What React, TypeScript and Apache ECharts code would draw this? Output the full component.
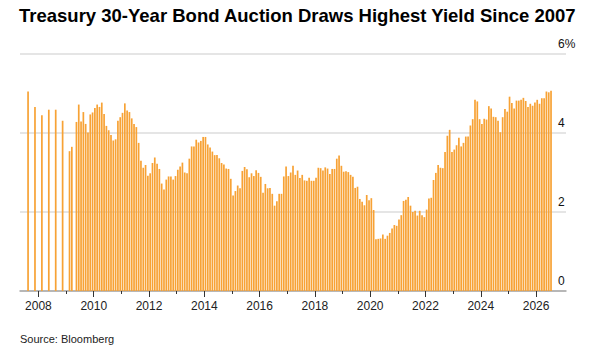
import { useEffect, useRef } from 'react';
import * as echarts from 'echarts';

// Quarterly auctions before the monthly schedule began
const quarterlyMonths = ['2007-08', '2007-11', '2008-02', '2008-05', '2008-08', '2008-11', '2009-02', '2009-03'];
const quarterlyYields = [5.05, 4.66, 4.45, 4.59, 4.59, 4.31, 3.54, 3.65];

// Monthly auction yields (%), one value per month starting May 2009
const monthlyStartYear = 2009;
const monthlyStartMonth = 5;
const monthlyYields = [
  // 2009 (May-Dec)
  4.28, 4.72, 4.29, 4.53, 4.23, 4.01, 4.47, 4.52,
  // 2010
  4.63, 4.72, 4.66, 4.77, 4.48, 4.18, 4.07, 3.95, 3.81, 3.84, 4.31, 4.40,
  // 2011
  4.51, 4.75, 4.57, 4.53, 4.37, 4.23, 4.15, 3.75, 3.30, 3.12, 3.19, 2.92,
  // 2012
  2.98, 3.24, 3.38, 3.22, 3.09, 2.72, 2.57, 2.82, 2.90, 2.90, 2.82, 2.91,
  // 2013
  3.07, 3.15, 3.25, 3.00, 2.98, 3.35, 3.66, 3.66, 3.83, 3.76, 3.80, 3.90,
  // 2014
  3.90, 3.71, 3.63, 3.53, 3.44, 3.44, 3.36, 3.24, 3.20, 3.10, 3.09, 2.84,
  // 2015
  2.42, 2.53, 2.67, 2.60, 3.04, 3.14, 3.08, 2.88, 2.98, 2.91, 3.06, 2.99,
  // 2016
  2.89, 2.49, 2.71, 2.60, 2.61, 2.46, 2.16, 2.27, 2.46, 2.46, 2.90, 3.15,
  // 2017
  2.91, 3.00, 3.17, 2.94, 3.05, 2.86, 2.94, 2.80, 2.79, 2.87, 2.79, 2.79,
  // 2018
  2.87, 3.12, 3.11, 3.05, 3.13, 3.10, 2.96, 3.09, 3.09, 3.35, 3.43, 3.17,
  // 2019
  3.02, 3.03, 3.01, 2.94, 2.89, 2.61, 2.64, 2.33, 2.26, 2.17, 2.43, 2.30,
  // 2020
  2.35, 2.05, 1.31, 1.32, 1.33, 1.43, 1.32, 1.40, 1.47, 1.58, 1.67, 1.65,
  // 2021
  1.81, 1.92, 2.28, 2.31, 2.38, 2.16, 2.00, 2.03, 1.91, 2.03, 1.92, 1.87,
  // 2022
  2.06, 2.34, 2.36, 2.81, 2.99, 3.19, 3.12, 3.11, 3.52, 3.93, 4.08, 3.52,
  // 2023
  3.58, 3.69, 3.88, 3.66, 3.75, 3.91, 3.91, 4.19, 4.35, 4.84, 4.80, 4.35,
  // 2024
  4.23, 4.36, 4.34, 4.68, 4.62, 4.41, 4.40, 4.31, 4.02, 4.40, 4.61, 4.54,
  // 2025
  4.92, 4.76, 4.62, 4.82, 4.82, 4.84, 4.89, 4.81, 4.66, 4.74, 4.69, 4.77,
  // 2026 (Jan-Jul)
  4.84, 4.74, 4.88, 4.88, 5.05, 5.03, 5.07,
];

// Axis extent (first and last month slots on the category axis)
const axisStartYear = 2007;
const axisStartMonth = 5;
const axisEndYear = 2027;
const axisEndMonth = 1;

// Year ticks: labelled (long) ticks on even years, short ticks on odd years
const labelYears = [2008, 2010, 2012, 2014, 2016, 2018, 2020, 2022, 2024, 2026];
const minorTickYears = [2009, 2011, 2013, 2015, 2017, 2019, 2021, 2023, 2025];

// Value axis
const yMin = 0;
const yMax = 6;
const yStep = 2;

const FONT = '"Liberation Sans", Arial, Helvetica, sans-serif';
const BAR_COLOR = '#F7A235';

const monthKey = (y: number, m: number) => `${y}-${String(m).padStart(2, '0')}`;

function buildMonths(): string[] {
  const out: string[] = [];
  let y = axisStartYear;
  let m = axisStartMonth;
  while (y < axisEndYear || (y === axisEndYear && m <= axisEndMonth)) {
    out.push(monthKey(y, m));
    m += 1;
    if (m > 12) {
      m = 1;
      y += 1;
    }
  }
  return out;
}

function buildYieldLookup(): Map<string, number> {
  const lookup = new Map<string, number>();
  quarterlyMonths.forEach((k, i) => lookup.set(k, quarterlyYields[i]));
  let y = monthlyStartYear;
  let m = monthlyStartMonth;
  monthlyYields.forEach((v) => {
    lookup.set(monthKey(y, m), v);
    m += 1;
    if (m > 12) {
      m = 1;
      y += 1;
    }
  });
  return lookup;
}

// Position of the start of January of a year, in months from the axis start
const janOffset = (year: number) => (year - axisStartYear) * 12 + 1 - axisStartMonth;
const offsetToYear = (v: number) => axisStartYear + Math.round((v + axisStartMonth - 1) / 12);

export default function App() {
  const ref = useRef<HTMLDivElement>(null);

  useEffect(() => {
    if (!ref.current) return;
    const chart = echarts.init(ref.current, null, { renderer: 'svg' });
    const months = buildMonths();
    const lookup = buildYieldLookup();
    const values = months.map((k) => (lookup.has(k) ? lookup.get(k)! : '-'));
    const monthSpan = months.length;

    // Month-offset axes that carry the year ticks at the January boundaries
    const tickAxis = (years: number[], length: number, withLabels: boolean) => ({
      type: 'value',
      min: 0,
      max: monthSpan,
      position: 'bottom',
      axisLine: { show: false },
      splitLine: { show: false },
      axisTick: {
        show: true,
        length,
        customValues: years.map(janOffset),
        lineStyle: { color: '#333333', width: 1 },
      },
      axisLabel: withLabels
        ? {
            show: true,
            customValues: years.map(janOffset),
            formatter: (v: number) => String(offsetToYear(v)),
            fontFamily: FONT,
            fontSize: 12,
            color: '#222222',
            margin: 9,
            showMinLabel: true,
            showMaxLabel: true,
          }
        : { show: false },
    });

    chart.setOption({
      animation: false,
      backgroundColor: '#ffffff',
      textStyle: { fontFamily: FONT },
      title: {
        text: 'Treasury 30-Year Bond Auction Draws Highest Yield Since 2007',
        left: 19,
        top: 6,
        padding: 0,
        textStyle: {
          fontFamily: FONT,
          fontSize: 18.5,
          fontWeight: 'bold',
          color: '#000000',
        },
      },
      graphic: [
        {
          type: 'text',
          left: 20,
          top: 333,
          style: {
            text: 'Source: Bloomberg',
            fontFamily: FONT,
            fontSize: 11,
            fill: '#222222',
          },
        },
      ],
      grid: {
        left: 20,
        right: 29,
        top: 54,
        bottom: 62,
        containLabel: false,
        outerBoundsMode: 'none',
      },
      xAxis: [
        {
          type: 'category',
          data: months,
          boundaryGap: true,
          axisLine: { show: true, lineStyle: { color: '#a8a8a8', width: 1.5 } },
          axisTick: { show: false },
          axisLabel: { show: false },
          splitLine: { show: false },
        },
        tickAxis(labelYears, 6, true),
        tickAxis(minorTickYears, 3, false),
      ],
      yAxis: {
        type: 'value',
        position: 'right',
        min: yMin,
        max: yMax,
        interval: yStep,
        axisLine: { show: false },
        axisTick: { show: false },
        splitLine: { show: true, lineStyle: { color: '#dddddd', width: 1.5 } },
        axisLabel: {
          inside: true,
          align: 'left',
          verticalAlign: 'bottom',
          margin: 8,
          padding: [0, 0, 4, 0],
          fontFamily: FONT,
          fontSize: 12,
          color: '#111111',
          formatter: (v: number) => (v === yMax ? `${v}%` : `${v}`),
        },
      },
      series: [
        {
          type: 'bar',
          xAxisIndex: 0,
          data: values,
          barWidth: '74%',
          itemStyle: { color: BAR_COLOR },
          emphasis: { disabled: true },
        },
      ],
    });

    return () => chart.dispose();
  }, []);

  return (
    <div
      ref={ref}
      style={{ position: 'fixed', left: 0, top: 0, width: 595, height: 353 }}
    />
  );
}
